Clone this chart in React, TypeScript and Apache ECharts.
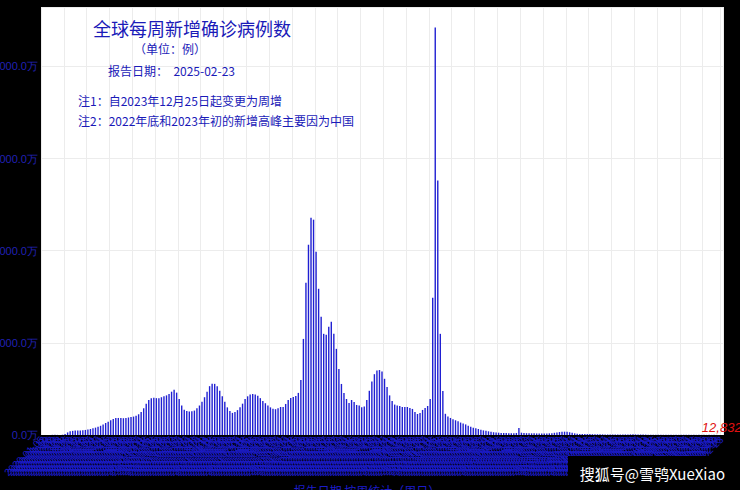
import React, { useEffect, useRef } from "react";
import * as echarts from "echarts";

// Weekly new confirmed cases, in units of 10,000 (万), week starting 2020-01-05
const weeklyCases10k: number[] = [
  0, 0.01, 0.05, 1.2, 2.0, 2.5, 1.5, 1.0, 3, 12,
  28, 40, 45, 48, 50, 50, 52, 55, 60, 65,
  72, 80, 90, 100, 115, 130, 145, 160, 175, 185,
  185, 185, 182, 185, 190, 195, 200, 210, 225, 250,
  290, 340, 380, 400, 405, 400, 400, 410, 420, 430,
  445, 470, 490, 460, 390, 320, 275, 260, 255, 258,
  265, 290, 320, 360, 410, 470, 530, 555, 555, 530,
  480, 420, 360, 300, 260, 240, 250, 270, 300, 340,
  390, 420, 440, 445, 440, 425, 400, 370, 345, 320,
  300, 285, 280, 290, 304, 304, 337, 380, 402, 413,
  424, 457, 598, 1043, 1652, 2065, 2359, 2337, 1989, 1587,
  1283, 1098, 1087, 1174, 1228, 1098, 935, 717, 554, 457,
  391, 348, 380, 359, 326, 320, 300, 310, 380, 480,
  580, 660, 700, 705, 690, 610, 520, 430, 370, 330,
  320, 315, 304, 304, 304, 293, 283, 250, 228, 239,
  272, 293, 315, 391, 1489, 4424, 2761, 1098, 478, 230,
  200, 185, 170, 160, 150, 135, 125, 115, 100, 90,
  80, 72, 65, 58, 50, 45, 40, 35, 30, 27,
  25, 23, 22, 21, 20, 20, 20, 22, 75, 25,
  22, 20, 19, 18, 18, 17, 17, 16, 16, 17,
  18, 20, 24, 28, 32, 35, 36, 34, 30, 25,
  18, 13, 12, 11, 11, 10, 10, 9, 9, 8,
  8, 7, 6, 5.5, 5, 4.8, 4.5, 4.5, 5, 5.5,
  6, 6.5, 7, 7, 6.5, 6, 5.5, 5, 4.5, 4,
  3.8, 3.5, 3.3, 3, 2.8, 2.6, 2.5, 2.4, 2.3, 2.2,
  2.2, 2.1, 2.0, 2.0, 1.9, 1.9, 1.8, 1.8, 1.7, 1.7,
  1.6, 1.6, 1.5, 1.5, 1.4, 1.4, 1.35, 1.3, 1.2832,
];

const firstWeek = "2020-01-05";
const yTickLabels = ["0.0万", "1000.0万", "2000.0万", "3000.0万", "4000.0万"];

const titleText = "全球每周新增确诊病例数";
const unitText = "（单位：例）";
const reportText = "报告日期：  2025-02-23";
const note1Text = "注1：自2023年12月25日起变更为周增";
const note2Text = "注2：2022年底和2023年初的新增高峰主要因为中国";
const xAxisName = "报告日期 按周统计（周日）";
const watermark = "搜狐号@雪鸮XueXiao";

function buildWeeks(start: string, n: number): string[] {
  const out: string[] = [];
  const t0 = Date.parse(start + "T00:00:00Z");
  for (let i = 0; i < n; i++) {
    const d = new Date(t0 + i * 7 * 86400000);
    out.push(d.toISOString().slice(0, 10));
  }
  return out;
}

const BLUE = "#1a1ab8";

export default function App() {
  const ref = useRef<HTMLDivElement>(null);
  useEffect(() => {
    if (!ref.current) return;
    const chart = echarts.init(ref.current, null, { renderer: "svg" });
    const cases = weeklyCases10k.map((v) => Math.round(v * 10000));
    const weeks = buildWeeks(firstWeek, cases.length);
    const last = cases.length - 1;
    const seriesData = cases.map((v, i) =>
      i === last
        ? {
            value: v,
            label: {
              show: true,
              position: "top",
              distance: 1,
              color: "#e01010",
              fontStyle: "italic",
              fontSize: 13,
              fontFamily: "Liberation Sans, Arial, sans-serif",
              formatter: (p: any) => Number(p.value).toLocaleString("en-US"),
            },
          }
        : v
    );
    const cjk = "'Noto Sans CJK SC', sans-serif";
    chart.setOption({
      animation: false,
      backgroundColor: "#000000",
      grid: {
        left: 41,
        right: 17,
        top: 7,
        bottom: 55,
        show: true,
        backgroundColor: "#ffffff",
        borderWidth: 0,
        containLabel: false,
        outerBoundsMode: "none",
      },
      xAxis: {
        type: "category",
        data: weeks,
        name: xAxisName,
        nameLocation: "middle",
        nameGap: 47,
        nameTextStyle: { color: "#1c1cc8", fontSize: 12, fontFamily: cjk, padding: [0, 30, 0, 0] },
        axisLine: { show: true, lineStyle: { color: "#000" } },
        axisTick: { show: false },
        axisLabel: {
          interval: 0,
          rotate: 45,
          color: "#1c1cc8",
          fontSize: 10,
          margin: 3,
        },
        splitLine: { show: true, interval: 8, lineStyle: { color: "#ececec", width: 1 } },
      },
      yAxis: {
        type: "value",
        min: 0,
        max: (v: any) => v.max * 1.05,
        interval: 10000000,
        axisLine: { show: false },
        axisTick: { show: false },
        axisLabel: {
          color: "#2020b4",
          fontSize: 11,
          margin: 3,
          showMaxLabel: false,
          formatter: (v: number) => {
            const idx = Math.round(v / 10000000);
            return yTickLabels[idx] !== undefined && Math.abs(v - idx * 10000000) < 1
              ? yTickLabels[idx]
              : "";
          },
        },
        splitLine: { show: true, lineStyle: { color: "#ececec" } },
      },
      series: [
        {
          type: "bar",
          data: seriesData,
          barWidth: "55%",
          itemStyle: { color: "#1f1fd2" },
        },
      ],
      graphic: {
        elements: [
          { type: "text", left: 93, top: 19, z: 100, style: { text: titleText, fill: BLUE, fontSize: 18, fontFamily: cjk } },
          { type: "text", left: 134, top: 42, z: 100, style: { text: unitText, fill: BLUE, fontSize: 12, fontFamily: cjk } },
          { type: "text", left: 108, top: 64, z: 100, style: { text: reportText, fill: BLUE, fontSize: 12, fontFamily: cjk } },
          { type: "text", left: 78, top: 94, z: 100, style: { text: note1Text, fill: BLUE, fontSize: 12, fontFamily: cjk } },
          { type: "text", left: 78, top: 114, z: 100, style: { text: note2Text, fill: BLUE, fontSize: 12, fontFamily: cjk } },
          { type: "rect", left: 568, top: 456, z: 100, shape: { width: 172, height: 34 }, style: { fill: "#000000" } },
          { type: "text", right: 15, top: 466, z: 101, style: { text: watermark, fill: "#ffffff", fontSize: 15, fontFamily: cjk } },
        ],
      },
    });
    return () => chart.dispose();
  }, []);
  return (
    <div
      ref={ref}
      style={{ position: "absolute", left: 0, top: 0, width: 740, height: 490 }}
    />
  );
}
